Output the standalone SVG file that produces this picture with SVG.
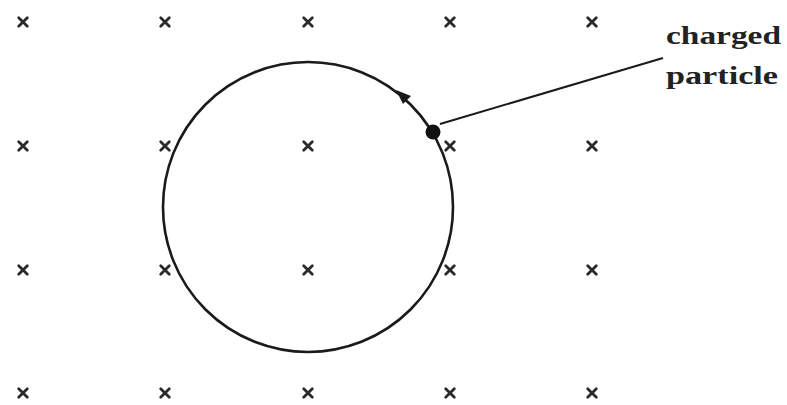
<svg xmlns="http://www.w3.org/2000/svg" width="787" height="405" viewBox="0 0 787 405">
<defs>
<style>
.mk{stroke:#2a2a2a;stroke-width:2.8;stroke-linecap:round;fill:none}
.ln{stroke:#1a1a1a;fill:none}
.lbl{font-family:"Liberation Serif","DejaVu Serif",serif;font-size:25px;fill:#222;font-weight:bold}
</style>
<g id="x"><path class="mk" d="M-4.3,-4.3L4.3,4.3M-4.3,4.3L4.3,-4.3"/></g>
</defs>
<rect width="787" height="405" fill="#fff"/>
<g id="field">
<use href="#x" x="23" y="22"/><use href="#x" x="165" y="22"/><use href="#x" x="308" y="22"/><use href="#x" x="450" y="22"/><use href="#x" x="592" y="22"/>
<use href="#x" x="23" y="146"/><use href="#x" x="165" y="146"/><use href="#x" x="308" y="146"/><use href="#x" x="450" y="146"/><use href="#x" x="592" y="146"/>
<use href="#x" x="23" y="270"/><use href="#x" x="165" y="270"/><use href="#x" x="308" y="270"/><use href="#x" x="450" y="270"/><use href="#x" x="592" y="270"/>
<use href="#x" x="23" y="393"/><use href="#x" x="165" y="393"/><use href="#x" x="308" y="393"/><use href="#x" x="450" y="393"/><use href="#x" x="592" y="393"/>
</g>
<g id="orbit">
<circle class="ln" cx="308" cy="207" r="145" stroke-width="2.6"/>
<path d="M396,90 L411,96 L403,104 Z" fill="#1a1a1a"/>
</g>
<g id="particle">
<circle cx="433" cy="132" r="7.5" fill="#111"/>
</g>
<g id="connectors">
<line class="ln" x1="440" y1="124" x2="663" y2="58" stroke-width="2"/>
</g>
<g id="label">
<text class="lbl" x="666" y="44" textLength="115" lengthAdjust="spacingAndGlyphs">charged</text>
<text class="lbl" x="666" y="84" textLength="112" lengthAdjust="spacingAndGlyphs">particle</text>
</g>
</svg>
